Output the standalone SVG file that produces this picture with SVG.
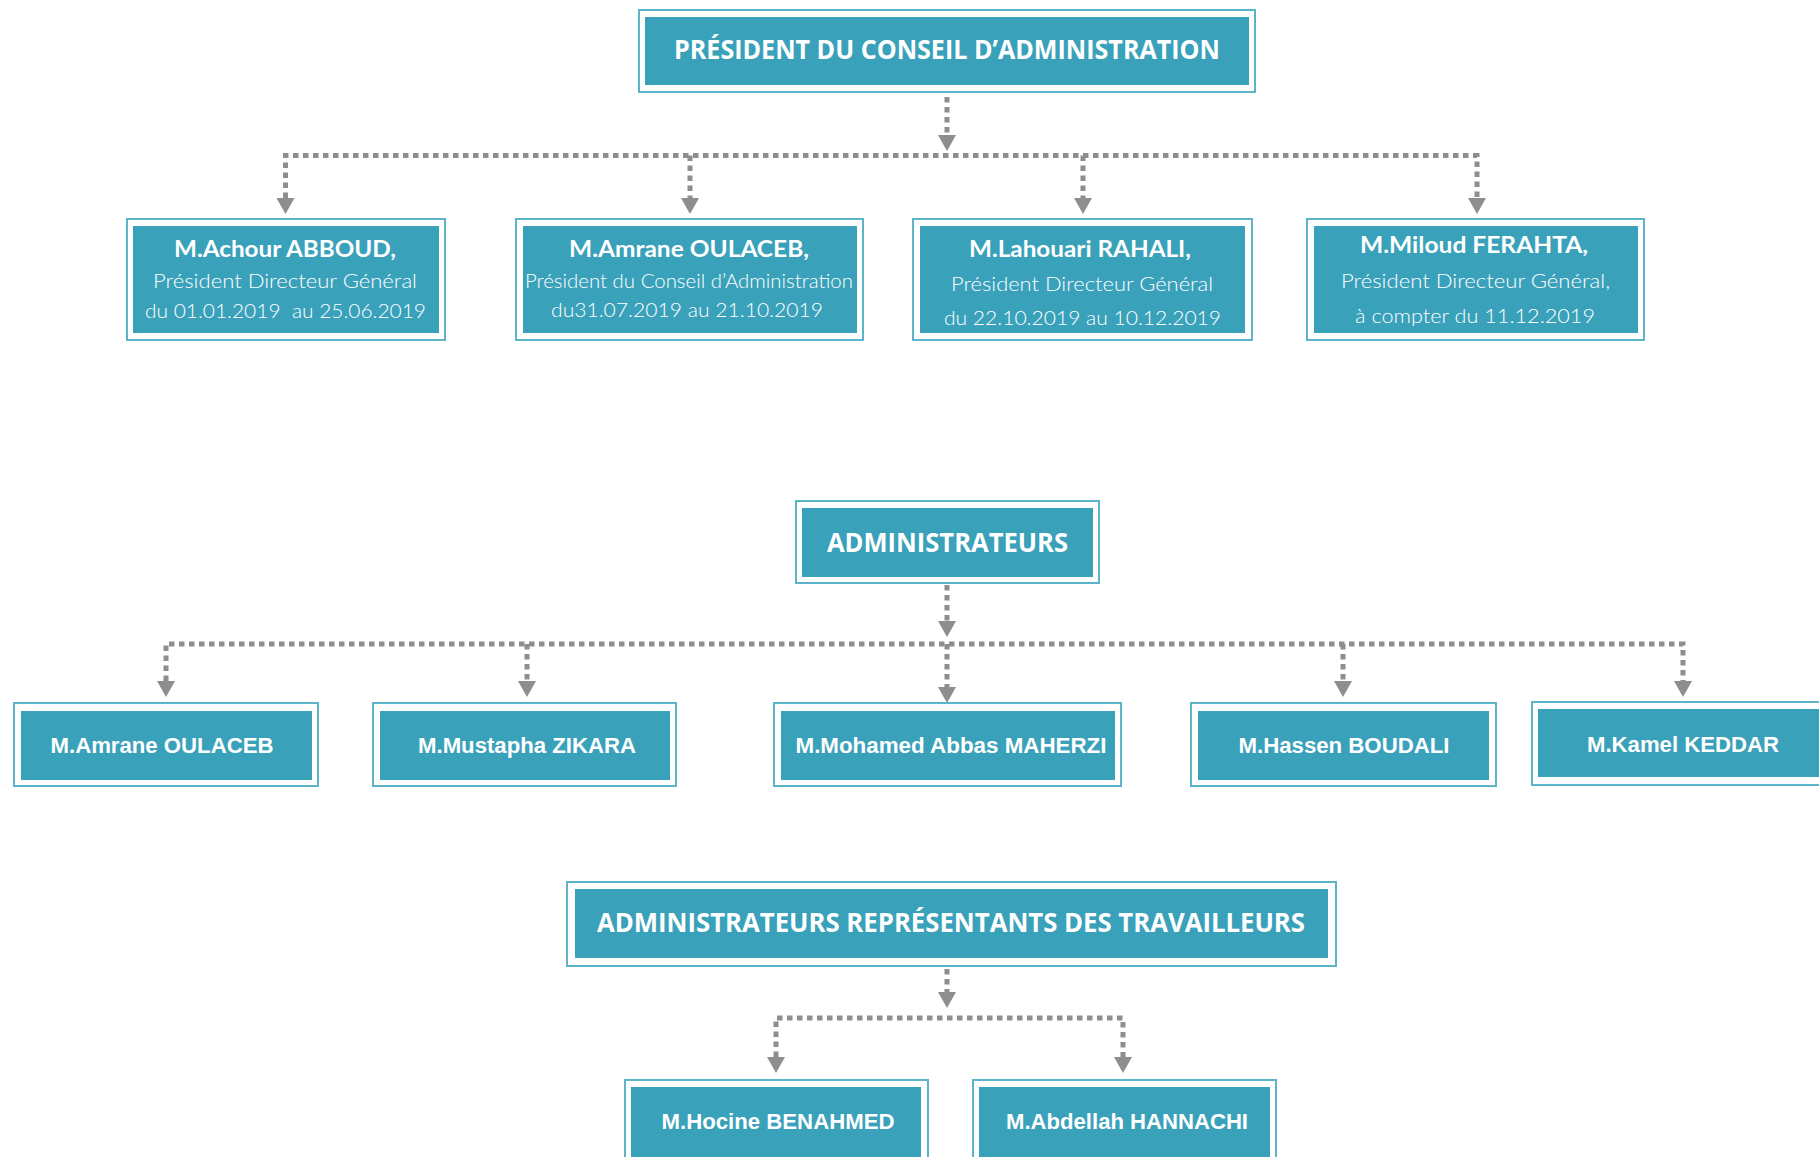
<svg xmlns="http://www.w3.org/2000/svg" width="1819" height="1157" viewBox="0 0 1819 1157">
<style>
.bg{fill:#ffffff}
.ob{fill:#ffffff;stroke:#5cb4c9;stroke-width:2}
.ib{fill:#3aa1bb}
.hd{font-family:"Open Sans","Liberation Sans",sans-serif;font-weight:700;font-size:27px;fill:#ffffff;text-anchor:middle}
.nm{font-family:"Liberation Sans",Arial,sans-serif;font-weight:700;font-size:22px;fill:#ffffff;text-anchor:middle}
.b1{font-family:Lato,"Noto Sans",sans-serif;font-weight:700;font-size:22px;fill:#ffffff;text-anchor:middle}
.l1{font-family:Lato,"Noto Sans",sans-serif;font-weight:300;font-size:19px;fill:#ffffff;text-anchor:middle}
.cn{fill:none;stroke:#8c8e90;stroke-width:5;stroke-dasharray:5.5 4.5}
</style>
<defs>
<marker id="ah" markerUnits="userSpaceOnUse" markerWidth="18" markerHeight="18" viewBox="0 0 16 18" refX="0" refY="9" orient="auto-start-reverse">
<path d="M0,0 L16,9 L0,18 Z" fill="#8c8e90"/>
</marker>
</defs>
<rect class="bg" x="0" y="0" width="1819" height="1157"/>

<g id="connectors">
<path class="cn" d="M947 97 V135" marker-end="url(#ah)"/>
<path class="cn" d="M285.5 198 V155.5 H1477 V198" marker-start="url(#ah)" marker-end="url(#ah)"/>
<path class="cn" d="M690 155.5 V198" marker-end="url(#ah)"/>
<path class="cn" d="M1083 155.5 V198" marker-end="url(#ah)"/>

<path class="cn" d="M947 585 V621" marker-end="url(#ah)"/>
<path class="cn" d="M166 681 V644 H1683 V681" marker-start="url(#ah)" marker-end="url(#ah)"/>
<path class="cn" d="M527 644 V681" marker-end="url(#ah)"/>
<path class="cn" d="M947 644 V687" marker-end="url(#ah)"/>
<path class="cn" d="M1343 644 V681" marker-end="url(#ah)"/>

<path class="cn" d="M947 969 V992" marker-end="url(#ah)"/>
<path class="cn" d="M776 1057 V1018 H1123 V1057" marker-start="url(#ah)" marker-end="url(#ah)"/>
</g>

<g id="pca">
<rect class="ob" x="639" y="10" width="616" height="82"/>
<rect class="ib" x="645" y="17" width="604" height="68"/>
<text class="hd" x="947" y="59" textLength="546" lengthAdjust="spacingAndGlyphs">PRÉSIDENT DU CONSEIL D’ADMINISTRATION</text>
</g>

<g id="abboud">
<rect class="ob" x="127" y="219" width="318" height="121"/>
<rect class="ib" x="133" y="226" width="306" height="107"/>
<text class="b1" x="285" y="257" textLength="222" lengthAdjust="spacingAndGlyphs">M.Achour ABBOUD,</text>
<text class="l1" x="285" y="288" textLength="264" lengthAdjust="spacingAndGlyphs">Président Directeur Général</text>
<text class="l1" x="285.5" y="318" textLength="281" lengthAdjust="spacingAndGlyphs" xml:space="preserve">du 01.01.2019  au 25.06.2019</text>
</g>

<g id="oulaceb1">
<rect class="ob" x="516" y="219" width="347" height="121"/>
<rect class="ib" x="523" y="226" width="334" height="107"/>
<text class="b1" x="689" y="257" textLength="240" lengthAdjust="spacingAndGlyphs">M.Amrane OULACEB,</text>
<text class="l1" x="689" y="288" textLength="328" lengthAdjust="spacingAndGlyphs">Président du Conseil d’Administration</text>
<text class="l1" x="687" y="317" textLength="272" lengthAdjust="spacingAndGlyphs">du31.07.2019 au 21.10.2019</text>
</g>

<g id="rahali">
<rect class="ob" x="913" y="219" width="339" height="121"/>
<rect class="ib" x="920" y="226" width="325" height="107"/>
<text class="b1" x="1080" y="257" textLength="222" lengthAdjust="spacingAndGlyphs">M.Lahouari RAHALI,</text>
<text class="l1" x="1082" y="291" textLength="262" lengthAdjust="spacingAndGlyphs">Président Directeur Général</text>
<text class="l1" x="1082.5" y="325" textLength="277" lengthAdjust="spacingAndGlyphs">du 22.10.2019 au 10.12.2019</text>
</g>

<g id="ferahta">
<rect class="ob" x="1307" y="219" width="337" height="121"/>
<rect class="ib" x="1314" y="226" width="324" height="107"/>
<text class="b1" x="1474" y="253" textLength="228" lengthAdjust="spacingAndGlyphs">M.Miloud FERAHTA,</text>
<text class="l1" x="1475.5" y="288" textLength="269" lengthAdjust="spacingAndGlyphs">Président Directeur Général,</text>
<text class="l1" x="1475" y="323" textLength="240" lengthAdjust="spacingAndGlyphs">à compter du 11.12.2019</text>
</g>

<g id="administrateurs">
<rect class="ob" x="796" y="501" width="303" height="82"/>
<rect class="ib" x="802" y="508" width="291" height="69"/>
<text class="hd" x="947.5" y="552" textLength="241" lengthAdjust="spacingAndGlyphs">ADMINISTRATEURS</text>
</g>

<g id="adm-oulaceb">
<rect class="ob" x="14" y="703" width="304" height="83"/>
<rect class="ib" x="21" y="711" width="291" height="69"/>
<text class="nm" x="162" y="753" textLength="223" lengthAdjust="spacingAndGlyphs">M.Amrane OULACEB</text>
</g>

<g id="adm-zikara">
<rect class="ob" x="373" y="703" width="303" height="83"/>
<rect class="ib" x="380" y="711" width="290" height="69"/>
<text class="nm" x="527" y="753" textLength="218" lengthAdjust="spacingAndGlyphs">M.Mustapha ZIKARA</text>
</g>

<g id="adm-maherzi">
<rect class="ob" x="774" y="703" width="347" height="83"/>
<rect class="ib" x="781" y="711" width="334" height="69"/>
<text class="nm" x="951" y="753" textLength="311" lengthAdjust="spacingAndGlyphs">M.Mohamed Abbas MAHERZI</text>
</g>

<g id="adm-boudali">
<rect class="ob" x="1191" y="703" width="305" height="83"/>
<rect class="ib" x="1198" y="711" width="291" height="69"/>
<text class="nm" x="1344" y="753" textLength="211" lengthAdjust="spacingAndGlyphs">M.Hassen BOUDALI</text>
</g>

<g id="adm-keddar">
<rect class="ob" x="1532" y="702" width="302" height="83"/>
<rect class="ib" x="1538" y="709" width="290" height="68"/>
<text class="nm" x="1683" y="752" textLength="192" lengthAdjust="spacingAndGlyphs">M.Kamel KEDDAR</text>
</g>

<g id="representants">
<rect class="ob" x="567" y="882" width="769" height="84"/>
<rect class="ib" x="575" y="889" width="753" height="69"/>
<text class="hd" x="951" y="932" textLength="708" lengthAdjust="spacingAndGlyphs">ADMINISTRATEURS REPRÉSENTANTS DES TRAVAILLEURS</text>
</g>

<g id="rep-benahmed">
<rect class="ob" x="625" y="1080" width="303" height="100"/>
<rect class="ib" x="631" y="1087" width="290" height="90"/>
<text class="nm" x="778" y="1129" textLength="233" lengthAdjust="spacingAndGlyphs">M.Hocine BENAHMED</text>
</g>

<g id="rep-hannachi">
<rect class="ob" x="973" y="1080" width="303" height="100"/>
<rect class="ib" x="979" y="1087" width="291" height="90"/>
<text class="nm" x="1127" y="1129" textLength="242" lengthAdjust="spacingAndGlyphs">M.Abdellah HANNACHI</text>
</g>
</svg>
